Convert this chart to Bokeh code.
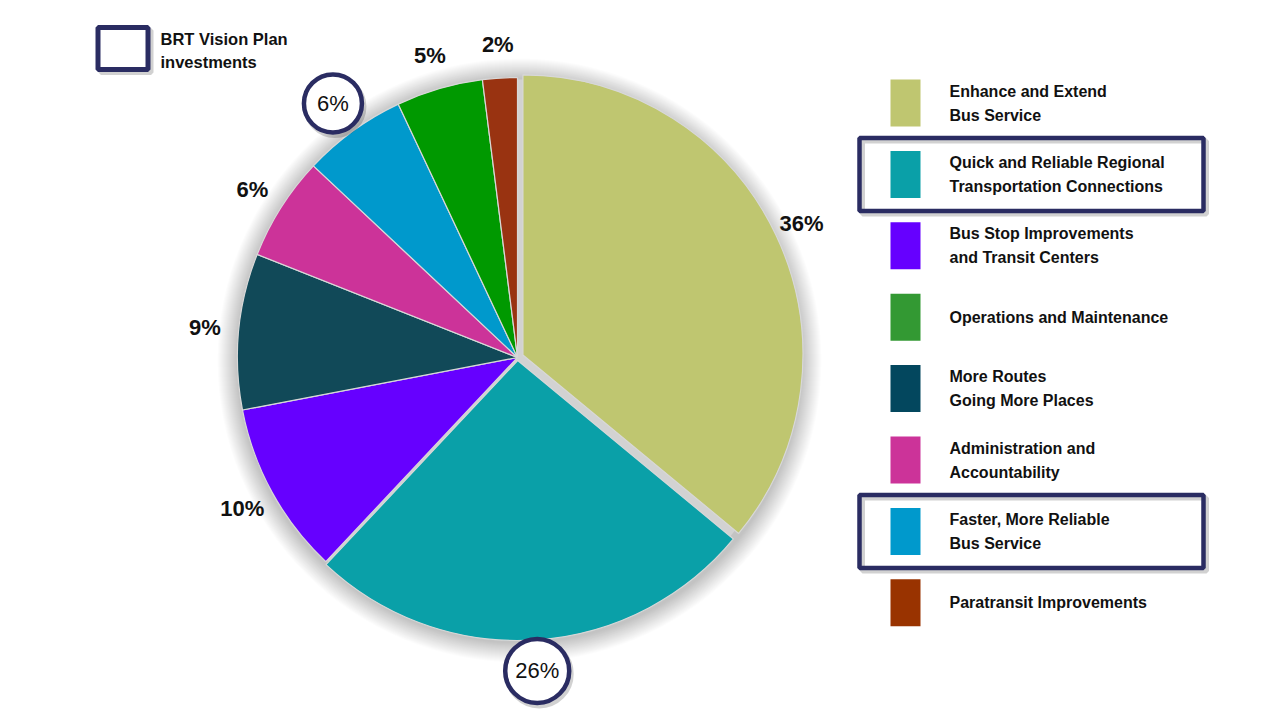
import numpy as np
from bokeh.plotting import figure
from bokeh.models import Range1d
from bokeh.embed import file_html
from bokeh.resources import INLINE
from bokeh.core.properties import value

# ---- data -------------------------------------------------------------
legend_lines = [
    ["Enhance and Extend", "Bus Service"],
    ["Quick and Reliable Regional", "Transportation Connections"],
    ["Bus Stop Improvements", "and Transit Centers"],
    ["Operations and Maintenance"],
    ["More Routes", "Going More Places"],
    ["Administration and", "Accountability"],
    ["Faster, More Reliable", "Bus Service"],
    ["Paratransit Improvements"],
]
shares = [36, 26, 10, 5, 9, 6, 6, 2]
legend_colors = ["#BFC670", "#0AA0A8", "#6600FF", "#339933",
                 "#03475E", "#CC3399", "#0099CC", "#993300"]
slice_colors = ["#BFC670", "#0AA0A8", "#6600FF", "#009900",
                "#114958", "#CC3399", "#0099CC", "#993311"]
# clockwise drawing order of the slices, starting at 12 o'clock
pie_order = [0, 1, 2, 4, 5, 6, 3, 7]
highlighted = [1, 6]
explode = {0: 6.0, 1: 3.0}

W, H = 1280, 720
NAVY = "#2A2C62"
FONT = "Liberation Sans"


def Y(py):
    return H - py


p = figure(width=W, height=H, x_range=Range1d(0, W), y_range=Range1d(0, H),
           output_backend="svg", toolbar_location=None, min_border=0,
           x_axis_location=None, y_axis_location=None)
p.grid.visible = False
p.outline_line_color = None
p.background_fill_color = "white"

# ---- pie ---------------------------------------------------------------
cx, cy, R = 517.0, Y(357.0), 280.0

# soft shadow around the pie
for k in range(20):
    p.circle(x=[cx + 2], y=[cy - 3], radius=R + 22 - k, fill_color="#000000",
             fill_alpha=0.012, line_color=None)
p.circle(x=[cx], y=[cy], radius=R - 2, fill_color="#D2D2D2", line_color=None)

total = float(sum(shares))
theta = 0.0  # clockwise from 12 o'clock, degrees
mids = {}
for idx in pie_order:
    span = 360.0 * shares[idx] / total
    t0, t1 = theta, theta + span
    mid = 0.5 * (t0 + t1)
    mids[idx] = mid
    off = explode.get(idx, 0.0)
    ox = cx + off * np.sin(np.radians(mid))
    oy = cy + off * np.cos(np.radians(mid))
    start = np.radians(90.0 - t1)
    end = np.radians(90.0 - t0)
    p.wedge(x=[ox], y=[oy], radius=R, start_angle=start, end_angle=end,
            fill_color=slice_colors[idx], line_color="#D8D8D8", line_width=1.2)
    theta = t1

# percentage labels placed outside each slice
label_r = 314.0
for idx in pie_order:
    mid = np.radians(mids[idx])
    lx = cx + label_r * np.sin(mid)
    ly = cy + label_r * np.cos(mid)
    txt = f"{shares[idx]}%"
    if idx in highlighted:
        rr = 32 if shares[idx] >= 10 else 29
        p.circle(x=[lx + 2], y=[ly - 3], radius=rr, fill_color=None,
                 line_color="#000000", line_alpha=0.18, line_width=5)
        p.circle(x=[lx], y=[ly], radius=rr, fill_color="white",
                 line_color=NAVY, line_width=4.5)
        style = "normal"
    else:
        style = "bold"
    p.text(x=[lx], y=[ly], text=[txt], text_align="center",
           text_baseline="middle", text_font=value(FONT),
           text_font_size="22px", text_font_style=style, text_color="#111111")

# ---- legend ------------------------------------------------------------
for i, lines in enumerate(legend_lines):
    yc = 102.5 + 71.4 * i
    if i in highlighted:
        p.rect(x=[1031 + 3], y=[Y(yc) - 3], width=344, height=73,
               fill_color=None, line_color="#000000", line_alpha=0.18,
               line_width=5)
        p.rect(x=[1031], y=[Y(yc)], width=344, height=73, fill_color=None,
               line_color=NAVY, line_width=4.5)
    p.rect(x=[905], y=[Y(yc)], width=30, height=47,
           fill_color=legend_colors[i], line_color=None)
    n = len(lines)
    for j, line in enumerate(lines):
        ly = yc + (j - (n - 1) / 2.0) * 24
        p.text(x=[949], y=[Y(ly)], text=[line], text_align="left",
               text_baseline="middle", text_font=value(FONT),
               text_font_size="16px", text_font_style="bold",
               text_color="#111111")

# ---- key for the outlined items ---------------------------------------
p.rect(x=[122.5 + 3], y=[Y(48) - 3], width=50, height=42, fill_color=None,
       line_color="#000000", line_alpha=0.18, line_width=5)
p.rect(x=[122.5], y=[Y(48)], width=50, height=42, fill_color="white",
       line_color=NAVY, line_width=5)
for j, line in enumerate(["BRT Vision Plan", "investments"]):
    p.text(x=[160], y=[Y(38 + 23 * j)], text=[line], text_align="left",
           text_baseline="middle", text_font=value(FONT),
           text_font_size="16.5px", text_font_style="bold",
           text_color="#111111")

open("out.html", "w").write(file_html(p, INLINE))
